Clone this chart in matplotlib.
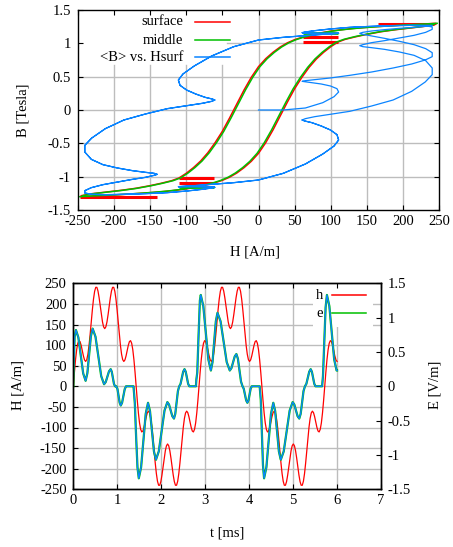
import numpy as np
import matplotlib
matplotlib.use("Agg")
import matplotlib.pyplot as plt
from matplotlib.lines import Line2D
from matplotlib.patches import Rectangle
from matplotlib.ticker import FormatStrFormatter

plt.rcParams['font.family'] = ['Liberation Serif', 'DejaVu Serif']
plt.rcParams['axes.unicode_minus'] = False
FS = 10.5

# ---------------- data ----------------
# surface field H(t) [A/m], sampled every DT ms (one half-cycle read from the plot)
DT = 2.86 / 112
H_POS = [34.2, 64.8, 88.9, 104.5, 110.8, 108.5, 99.5, 86.8, 73.8, 64.0, 60.3, 64.7, 77.8, 99.0,
         126.2, 156.4, 186.1, 211.8, 230.5, 240.2, 240.2, 231.2, 215.1, 195.0, 174.2, 156.3, 144.3, 140.0,
         144.3, 156.3, 174.2, 195.0, 215.1, 231.2, 240.2, 240.2, 230.5, 211.8, 186.1, 156.4, 126.2, 99.0,
         77.8, 64.7, 60.3, 64.0, 73.8, 86.8, 99.5, 108.5, 110.8, 104.5, 88.9, 64.8, 34.2, 0.0]
H_NEG = [-34.2, -64.8, -88.9, -104.5, -110.8, -108.5, -99.5, -86.8, -73.8, -64.0, -60.3, -64.7, -77.8, -99.0,
         -126.2, -156.4, -186.1, -211.8, -230.5, -240.2, -240.2, -231.2, -215.1, -195.0, -174.2, -156.3, -144.3, -140.0,
         -144.3, -156.3, -174.2, -195.0, -215.1, -231.2, -240.2, -240.2, -230.5, -211.8, -186.1, -156.4, -126.2, -99.0,
         -77.8, -64.7, -60.3, -64.0, -73.8, -86.8, -99.5, -108.5, -110.8, -104.5, -88.9, -64.8, -34.2, 0.0]

# average flux density <B>(t) [T] on the same time samples
B_TRANS = [0.0, 0.03, 0.11, 0.20, 0.27, 0.32, 0.36, 0.39, 0.41, 0.425, 0.43, 0.44, 0.455, 0.48,
           0.52, 0.57, 0.63, 0.69, 0.75, 0.80, 0.86, 0.92, 0.98, 1.03, 1.075, 1.11, 1.135, 1.15,
           1.165, 1.185, 1.205, 1.225, 1.24, 1.255, 1.265, 1.27, 1.27, 1.27, 1.265, 1.255, 1.24, 1.215,
           1.19, 1.17, 1.16, 1.155, 1.152, 1.15, 1.15, 1.15, 1.15, 1.145, 1.135, 1.115, 1.09, 1.05]
B_NEG = [0.95, 0.81, 0.66, 0.54, 0.45, 0.37, 0.30, 0.24, 0.19, 0.165, 0.15, 0.13, 0.10, 0.065,
         0.02, -0.06, -0.15, -0.28, -0.42, -0.53, -0.63, -0.74, -0.82, -0.87, -0.91, -0.935, -0.95, -0.965,
         -0.98, -1.01, -1.04, -1.08, -1.12, -1.165, -1.21, -1.245, -1.265, -1.27, -1.265, -1.255, -1.24, -1.215,
         -1.19, -1.17, -1.16, -1.155, -1.152, -1.15, -1.15, -1.15, -1.15, -1.145, -1.135, -1.115, -1.09, -1.05]
B_POS = [-0.95, -0.81, -0.66, -0.54, -0.45, -0.37, -0.30, -0.24, -0.19, -0.165, -0.15, -0.13, -0.10, -0.065,
         -0.02, 0.06, 0.15, 0.28, 0.42, 0.53, 0.63, 0.74, 0.82, 0.87, 0.91, 0.935, 0.95, 0.965,
         0.98, 1.01, 1.04, 1.08, 1.12, 1.165, 1.21, 1.245, 1.265, 1.27, 1.265, 1.255, 1.24, 1.215,
         1.19, 1.17, 1.16, 1.155, 1.152, 1.15, 1.15, 1.15, 1.15, 1.145, 1.135, 1.115, 1.09, 1.05]

H_SURF = [0.0] + H_POS + H_NEG + H_POS + H_NEG + H_POS[:11]
B_AVG = [0.0] + B_TRANS + B_NEG + B_POS + B_NEG + B_POS[:11]

# major loop branches (surface = red, middle = green)
H_ASC_S = [-245, -220, -200, -180, -160, -145, -130, -120, -110, -100, -90, -80, -70, -60, -50, -40, -30, -20,
           -10, 0, 10, 20, 30, 40, 50, 60, 70, 80, 90, 100, 110, 120, 135, 150, 170, 190, 210, 230, 245]
B_ASC_S = [-1.30, -1.285, -1.275, -1.262, -1.248, -1.236, -1.222, -1.211, -1.198, -1.183, -1.165, -1.143,
           -1.118, -1.09, -1.055, -1.008, -0.945, -0.865, -0.77, -0.65, -0.49, -0.30, -0.09, 0.12, 0.32,
           0.49, 0.64, 0.765, 0.865, 0.95, 1.02, 1.06, 1.10, 1.135, 1.175, 1.205, 1.23, 1.255, 1.285]
H_DESC_S = [245, 220, 200, 180, 160, 145, 130, 120, 110, 100, 90, 80, 70, 60, 50, 40, 30, 20,
            10, 0, -10, -20, -30, -40, -50, -60, -70, -80, -90, -100, -110, -120, -135, -150, -170, -190,
            -210, -230, -245]
B_DESC_S = [1.30, 1.285, 1.275, 1.262, 1.248, 1.236, 1.222, 1.211, 1.198, 1.183, 1.165, 1.143,
            1.118, 1.09, 1.055, 1.008, 0.945, 0.865, 0.77, 0.65, 0.49, 0.30, 0.09, -0.12, -0.32,
            -0.49, -0.64, -0.765, -0.865, -0.95, -1.02, -1.06, -1.10, -1.135, -1.175, -1.205, -1.23, -1.255, -1.285]
H_ASC_M = [-247, -222, -202, -182, -162, -147, -132, -122, -112, -102, -92, -82, -72, -62, -52, -42, -32, -22,
           -12, -2, 8, 18, 28, 38, 48, 58, 68, 78, 88, 98, 108, 118, 133, 148, 168, 188, 208, 228, 243]
H_DESC_M = [247, 222, 202, 182, 162, 147, 132, 122, 112, 102, 92, 82, 72, 62, 52, 42, 32, 22,
            12, 2, -8, -18, -28, -38, -48, -58, -68, -78, -88, -98, -108, -118, -133, -148, -168, -188,
            -208, -228, -243]
B_ASC_M = B_ASC_S
B_DESC_M = B_DESC_S

# flat minor loops: (H_from, H_to, B)
MINOR_S = [(62, 110, 1.025), (62, 110, 1.10), (165, 242, 1.295),
           (-110, -62, -1.025), (-110, -62, -1.10), (-247, -140, -1.30)]
MINOR_M = [(62, 110, 1.16), (-110, -62, -1.16)]

# electric field e(t) [V/m]
T_E = [0.0, 0.01, 0.03, 0.06, 0.115, 0.17, 0.225, 0.28, 0.32, 0.36, 0.40, 0.44, 0.505, 0.57, 0.635, 0.70,
       0.7375, 0.775, 0.8125, 0.85, 0.875, 0.90, 0.925, 0.95, 0.98, 1.005, 1.03, 1.055, 1.08, 1.11, 1.14,
       1.17, 1.20, 1.37, 1.40, 1.43, 1.46, 1.49, 1.5425, 1.595, 1.6475, 1.70, 1.745, 1.79, 1.835, 1.88,
       1.945, 2.01, 2.075, 2.14, 2.1775, 2.215, 2.2525, 2.29, 2.32, 2.35, 2.38, 2.41, 2.44, 2.47, 2.50,
       2.53, 2.5575, 2.585, 2.6125, 2.64, 2.79, 2.80, 2.82, 2.85, 2.88, 2.90, 2.9575, 3.015, 3.0725, 3.13,
       3.1675, 3.205, 3.2425, 3.28, 3.35, 3.42, 3.49, 3.56, 3.5975, 3.635, 3.6725, 3.71, 3.745, 3.78, 3.815,
       3.85, 3.8775, 3.905, 3.9325, 3.96, 3.985, 4.01, 4.035, 4.06, 4.24, 4.265, 4.29, 4.315, 4.34, 4.3925,
       4.445, 4.4975, 4.55, 4.5925, 4.635, 4.6775, 4.72, 4.7875, 4.855, 4.9225, 4.99, 5.0275, 5.065, 5.1025,
       5.14, 5.1725, 5.205, 5.2375, 5.27, 5.3025, 5.335, 5.3675, 5.40, 5.4275, 5.455, 5.4825, 5.51, 5.66,
       5.68, 5.71, 5.74, 5.77, 5.825, 5.88, 5.935, 5.99, 6.0]
E_VAL = [0.0, 0.30, 0.72, 0.82, 0.712, 0.45, 0.188, 0.08, 0.191, 0.46, 0.729, 0.84, 0.722, 0.435, 0.148, 0.03,
         0.062, 0.14, 0.218, 0.25, 0.213, 0.125, 0.036, 0.0, 0.0, -0.041, -0.14, -0.239, -0.28, -0.239, -0.14,
         -0.041, 0.0, 0.0, -0.25, -0.75, -1.18, -1.34, -1.179, -0.79, -0.401, -0.24, -0.361, -0.655, -0.949, -1.07,
         -0.947, -0.65, -0.353, -0.23, -0.265, -0.35, -0.435, -0.47, -0.401, -0.235, -0.069, 0.0, 0.036, 0.125, 0.213,
         0.25, 0.213, 0.125, 0.036, 0.0, 0.0, 0.10, 0.20, 0.75, 1.25, 1.33, 1.169, 0.78, 0.391, 0.23,
         0.353, 0.65, 0.947, 1.07, 0.947, 0.65, 0.353, 0.23, 0.265, 0.35, 0.435, 0.47, 0.401, 0.235, 0.069,
         0.0, -0.035, -0.12, -0.205, -0.24, -0.205, -0.12, -0.035, 0.0, 0.0, -0.20, -0.70, -1.15, -1.34, -1.179,
         -0.79, -0.401, -0.24, -0.361, -0.655, -0.949, -1.07, -0.947, -0.65, -0.353, -0.23, -0.265, -0.35, -0.435,
         -0.47, -0.401, -0.235, -0.069, 0.0, 0.036, 0.125, 0.213, 0.25, 0.213, 0.125, 0.036, 0.0, 0.0,
         0.15, 0.65, 1.15, 1.33, 1.169, 0.78, 0.391, 0.23, 0.23]

TOP_XTICKS = [-250, -200, -150, -100, -50, 0, 50, 100, 150, 200, 250]
TOP_YTICKS = [-1.5, -1, -0.5, 0, 0.5, 1, 1.5]
BOT_XTICKS = [0, 1, 2, 3, 4, 5, 6, 7]
BOT_YTICKS = [-250, -200, -150, -100, -50, 0, 50, 100, 150, 200, 250]
BOT_Y2TICKS = [-1.5, -1, -0.5, 0, 0.5, 1, 1.5]

# ---------------- style ----------------
RED = '#ff0000'
GREEN = '#00c000'
BLUE = '#0a84ff'
GRID = '#bdbdbd'
W, HPX = 453, 547

fig = plt.figure(figsize=(W / 100, HPX / 100), dpi=100)
ax1 = fig.add_axes([77.7 / W, 1 - 210 / HPX, 361.6 / W, 200 / HPX])
ax2 = fig.add_axes([73.3 / W, 1 - 489.3 / HPX, 307.7 / W, 206 / HPX])
ax2r = ax2.twinx()


def draw_grid(ax, xt, yt, xlim, ylim, box):
    bx0, bx1, by0, by1 = box
    for v in xt:
        if v <= xlim[0] or v >= xlim[1]:
            continue
        f = (v - xlim[0]) / (xlim[1] - xlim[0])
        top = by0 if bx0 <= f <= bx1 else 1.0
        ax.axvline(v, 0, top, color=GRID, lw=1.0, zorder=0.5)
    for v in yt:
        if v <= ylim[0] or v >= ylim[1]:
            continue
        f = (v - ylim[0]) / (ylim[1] - ylim[0])
        if by0 <= f <= by1:
            if bx0 > 0:
                ax.axhline(v, 0, bx0, color=GRID, lw=1.0, zorder=0.5)
            if bx1 < 1:
                ax.axhline(v, bx1, 1, color=GRID, lw=1.0, zorder=0.5)
        else:
            ax.axhline(v, 0, 1, color=GRID, lw=1.0, zorder=0.5)


for sp in list(ax1.spines.values()) + list(ax2.spines.values()) + list(ax2r.spines.values()):
    sp.set_linewidth(1.0)

# ---- top: hysteresis ----
ax1.set_xlim(-250, 250)
ax1.set_ylim(-1.5, 1.5)
draw_grid(ax1, TOP_XTICKS, TOP_YTICKS, (-250, 250), (-1.5, 1.5), (0.0, 0.413, 0.725, 1.0))

ax1.plot(H_ASC_S, B_ASC_S, color=RED, lw=1.1, zorder=2.0)
ax1.plot(H_DESC_S, B_DESC_S, color=RED, lw=1.1, zorder=2.0)
for h0, h1, b in MINOR_S:
    ax1.plot([h0, h1], [b, b], color=RED, lw=2.2, zorder=2.0, solid_capstyle='butt')
ax1.plot(H_ASC_M, B_ASC_M, color=GREEN, lw=1.1, zorder=2.1)
ax1.plot(H_DESC_M, B_DESC_M, color=GREEN, lw=1.1, zorder=2.1)
for h0, h1, b in MINOR_M:
    ax1.plot([h0, h1], [b, b], color=GREEN, lw=2.0, zorder=2.1, solid_capstyle='butt')
ax1.plot(H_SURF, B_AVG, color=BLUE, lw=0.9, zorder=2.2)

ax1.set_xticks(TOP_XTICKS)
ax1.set_yticks(TOP_YTICKS)
ax1.yaxis.set_major_formatter(FormatStrFormatter('%g'))
ax1.xaxis.set_major_formatter(FormatStrFormatter('%g'))
ax1.tick_params(direction='in', length=3.5, width=0.8, top=True, right=True, labelsize=FS)
ax1.tick_params(axis='y', pad=4.8)
ax1.tick_params(axis='x', pad=3.5)

# legend (gnuplot style: text right-aligned, sample on the right)
for yy, lab, col in [(0.9415, 'surface', RED), (0.85, 'middle', GREEN), (0.7635, '<B> vs. Hsurf', BLUE)]:
    ax1.text(0.291, yy, lab, transform=ax1.transAxes, ha='right', va='center', fontsize=FS, zorder=3)
    ax1.add_line(Line2D([0.3247, 0.4221], [yy, yy], transform=ax1.transAxes, color=col, lw=1.1, zorder=3))

# ---- bottom: time signals ----
t = np.arange(len(H_SURF)) * DT
ax2.set_xlim(0, 7)
ax2.set_ylim(-250, 250)
ax2r.set_ylim(-1.5, 1.5)
draw_grid(ax2, BOT_XTICKS, BOT_YTICKS, (0, 7), (-250, 250), (0.779, 0.974, 0.788, 1.0))
ax2.add_patch(Rectangle((0.779, 0.788), 0.195, 0.212, transform=ax2.transAxes,
                        facecolor='white', edgecolor='none', zorder=0.6))

ax2.plot(t, H_SURF, color=RED, lw=0.9, zorder=2)
ax2r.plot(T_E, E_VAL, color=GREEN, lw=1.6, zorder=2)
ax2r.plot(T_E, E_VAL, color=BLUE, lw=1.0, zorder=2.1)

ax2.set_xticks(BOT_XTICKS)
ax2.set_yticks(BOT_YTICKS)
ax2r.set_yticks(BOT_Y2TICKS)
ax2.xaxis.set_major_formatter(FormatStrFormatter('%g'))
ax2.yaxis.set_major_formatter(FormatStrFormatter('%g'))
ax2r.yaxis.set_major_formatter(FormatStrFormatter('%g'))
ax2.tick_params(axis='x', direction='in', length=3.5, width=0.8, top=True, labelsize=FS, pad=3.5)
ax2.tick_params(axis='y', direction='in', length=3.5, width=0.8, right=False, labelsize=FS, pad=4.8)
ax2r.tick_params(axis='y', direction='in', length=3.5, width=0.8, labelsize=FS, pad=4.5)

for yy, lab, col in [(0.9432, 'h', RED), (0.8544, 'e', GREEN)]:
    ax2.text(0.8125, yy, lab, transform=ax2.transAxes, ha='right', va='center', fontsize=FS, zorder=3)
    ax2.add_line(Line2D([0.8398, 0.9512], [yy, yy], transform=ax2.transAxes, color=col, lw=1.1, zorder=3))

# axis labels
fig.text(23 / W, 1 - 110 / HPX, 'B [Tesla]', rotation=90, ha='center', va='center', fontsize=FS)
fig.text(255 / W, 1 - 252 / HPX, 'H [A/m]', ha='center', va='center', fontsize=FS)
fig.text(17.5 / W, 1 - 385 / HPX, 'H [A/m]', rotation=90, ha='center', va='center', fontsize=FS)
fig.text(435 / W, 1 - 385 / HPX, 'E [V/m]', rotation=90, ha='center', va='center', fontsize=FS)
fig.text(227 / W, 1 - 533 / HPX, 't [ms]', ha='center', va='center', fontsize=FS)

fig.savefig('out.png', dpi=100)
